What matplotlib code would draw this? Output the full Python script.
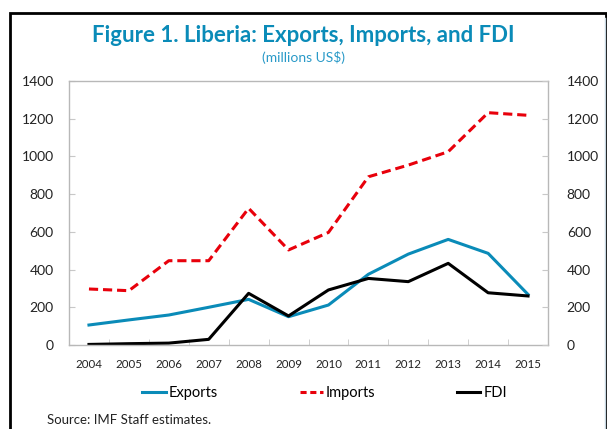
import numpy as np
import matplotlib.pyplot as plt
from matplotlib.patches import Rectangle
from matplotlib.lines import Line2D

plt.rcParams['font.family'] = ['Lato', 'DejaVu Sans']

years = ['2004', '2005', '2006', '2007', '2008', '2009', '2010', '2011',
         '2012', '2013', '2014', '2015']
exports = [106, 133, 159, 200, 242, 150, 212, 375, 482, 560, 486, 268]
imports = [297, 288, 447, 447, 725, 504, 597, 892, 954, 1025, 1232, 1218]
fdi = [3, 7, 10, 30, 274, 154, 292, 353, 336, 433, 277, 260]

blue = '#0a8bb8'
red = '#e8000b'
grey = '#c8c8c8'

fig = plt.figure(figsize=(6.07, 4.29), dpi=100)
ax = fig.add_axes([69/607, 1-345/429, 479/607, 264/429])

x = np.arange(len(years))
ax.plot(x, exports, color=blue, lw=2.2, label='Exports')
ax.plot(x, imports, color=red, lw=2.2, ls=(0, (3, 1.6)), label='Imports')
ax.plot(x, fdi, color='black', lw=2.2, label='FDI')

ax.set_xlim(-0.5, len(years) - 0.5)
ax.set_ylim(0, 1400)
ax.set_yticks(range(0, 1401, 200))
ax.set_xticks(x)
ax.set_xticklabels(years, fontsize=8.3, color='#222222')
ax.set_xticks(np.arange(0.5, len(years) - 1, 1), minor=True)
ax.tick_params(axis='x', which='major', length=0, pad=10)
ax.tick_params(axis='x', which='minor', direction='in', length=4, color=grey)
ax.tick_params(axis='y', direction='in', length=4, color=grey,
               labelsize=10, labelcolor='#222222', pad=11)
for s in ax.spines.values():
    s.set_color('#b8b8b8')
    s.set_linewidth(1)

# right axis, same scale
ax2 = ax.twinx()
ax2.set_ylim(ax.get_ylim())
ax2.set_yticks(range(0, 1401, 200))
ax2.tick_params(axis='y', direction='in', length=4, color=grey,
                labelsize=10, labelcolor='#222222', pad=13.5)
for s in ax2.spines.values():
    s.set_visible(False)

fig.text(0.5, 1 - 35/429, 'Figure 1. Liberia: Exports, Imports, and FDI',
         ha='center', va='center', fontsize=16, fontweight='bold', color=blue)
fig.text(0.5, 1 - 57/429, '(millions US$)', ha='center', va='center',
         fontsize=10, color='#2a9ac8')

handles = [Line2D([], [], color=blue, lw=2.2),
           Line2D([], [], color=red, lw=2.2, ls=(0, (2, 1.2))),
           Line2D([], [], color='black', lw=2.2)]
fig.legend(handles, ['Exports', 'Imports', 'FDI'], loc='center',
           bbox_to_anchor=(0.535, 1 - 393/429), ncol=3, frameon=False,
           fontsize=10.5, handlelength=1.6, handletextpad=0.2,
           columnspacing=5.6)

fig.text(47/607, 1 - 420/429, 'Source: IMF Staff estimates.', ha='left',
         va='center', fontsize=9.5, color='#222222')

fig.patches.append(Rectangle((10/607, -0.1), 596/607, 1.1 - 13/429,
                             transform=fig.transFigure, fill=False,
                             edgecolor='black', lw=2, zorder=-1))
fig.lines.append(Line2D([605/607, 605/607], [0, 1 - 18/429],
                        transform=fig.transFigure, color='#c5d5e0', lw=1))

fig.savefig('out.png', dpi=100)
